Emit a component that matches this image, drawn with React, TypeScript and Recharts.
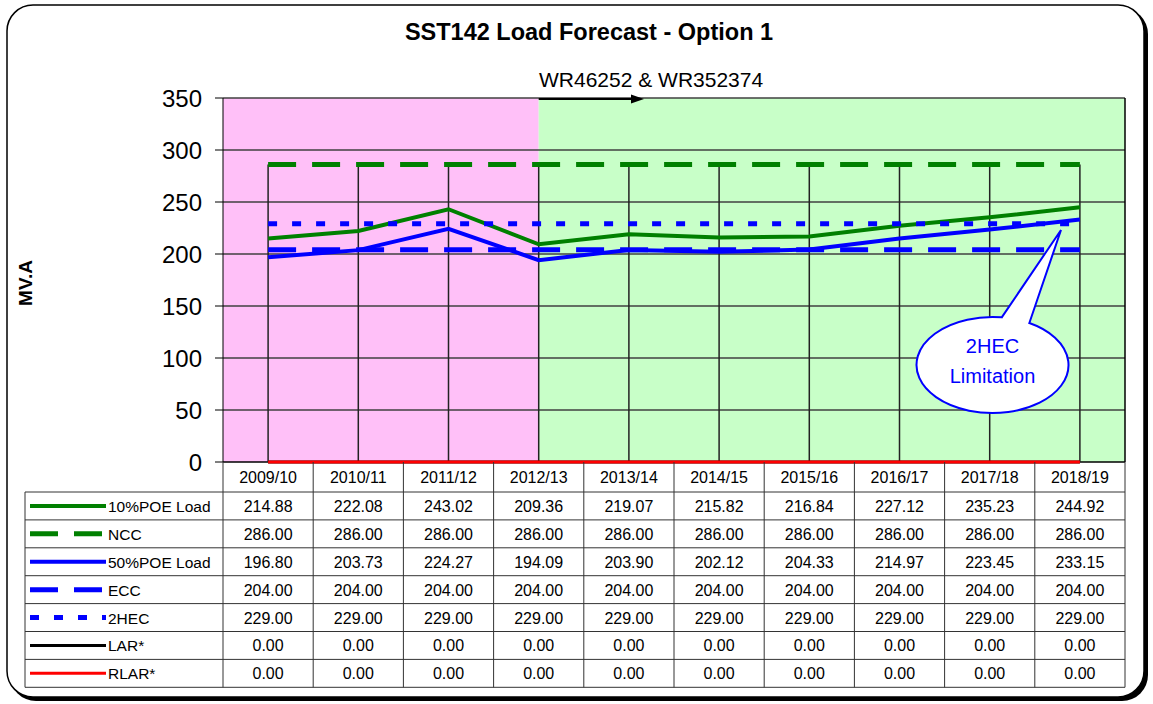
import React from 'react';
import {
  ComposedChart,
  Line,
  XAxis,
  YAxis,
  ReferenceArea,
  ReferenceLine,
} from 'recharts';

const categories = [
  '2009/10', '2010/11', '2011/12', '2012/13', '2013/14',
  '2014/15', '2015/16', '2016/17', '2017/18', '2018/19',
];
const poe10 = [214.88, 222.08, 243.02, 209.36, 219.07, 215.82, 216.84, 227.12, 235.23, 244.92];
const ncc = [286, 286, 286, 286, 286, 286, 286, 286, 286, 286];
const poe50 = [196.8, 203.73, 224.27, 194.09, 203.9, 202.12, 204.33, 214.97, 223.45, 233.15];
const ecc = [204, 204, 204, 204, 204, 204, 204, 204, 204, 204];
const hec2 = [229, 229, 229, 229, 229, 229, 229, 229, 229, 229];
const lar = [0, 0, 0, 0, 0, 0, 0, 0, 0, 0];
const rlar = [0, 0, 0, 0, 0, 0, 0, 0, 0, 0];
const yTicks = [0, 50, 100, 150, 200, 250, 300, 350];

// first year of the WR46252 & WR352374 stage (index into categories)
const stageStart = 3;

const FONT = '"Liberation Sans", Arial, sans-serif';

const SERIES = [
  { key: 'poe10', name: '10%POE Load', values: poe10, color: '#008000', width: 4, dash: undefined },
  { key: 'ncc', name: 'NCC', values: ncc, color: '#008000', width: 5, dash: '28 16' },
  { key: 'poe50', name: '50%POE Load', values: poe50, color: '#0000ff', width: 4, dash: undefined },
  { key: 'ecc', name: 'ECC', values: ecc, color: '#0000ff', width: 5, dash: '28 16' },
  { key: 'hec2', name: '2HEC', values: hec2, color: '#0000ff', width: 5, dash: '9 15' },
  { key: 'lar', name: 'LAR*', values: lar, color: '#000000', width: 3, dash: undefined },
  { key: 'rlar', name: 'RLAR*', values: rlar, color: '#ff0000', width: 3, dash: undefined },
];

const chartData = categories.map((cat, i) => {
  const row: Record<string, number | string> = { idx: i, cat };
  SERIES.forEach((s) => {
    row[s.key] = s.values[i];
  });
  return row;
});

const W = 1153;
const H = 704;
const PLOT_LEFT = 223;
const PLOT_RIGHT = 1125;
const PLOT_TOP = 98;
const PLOT_BOTTOM = 462;
const TABLE_LEFT = 25;
const HEADER_BOTTOM = 492;
const ROW_H = 27.9;
const colW = (PLOT_RIGHT - PLOT_LEFT) / categories.length;

function DataTable() {
  const tableBottom = HEADER_BOTTOM + ROW_H * SERIES.length;
  return (
    <g fontFamily={FONT} fill="#000">
      {categories.map((c, i) => (
        <text
          key={c}
          x={PLOT_LEFT + colW * (i + 0.5)}
          y={483}
          fontSize={16}
          textAnchor="middle"
        >
          {c}
        </text>
      ))}
      {SERIES.map((s, r) => {
        const cy = HEADER_BOTTOM + ROW_H * (r + 0.5);
        return (
          <g key={s.key}>
            <line
              x1={30}
              x2={106}
              y1={cy}
              y2={cy}
              stroke={s.color}
              strokeWidth={s.width}
              strokeDasharray={s.dash}
            />
            <text x={108} y={cy + 6} fontSize={15.5}>
              {s.name}
            </text>
            {s.values.map((v, i) => (
              <text
                key={i}
                x={PLOT_LEFT + colW * (i + 0.5)}
                y={cy + 6}
                fontSize={16}
                textAnchor="middle"
              >
                {v.toFixed(2)}
              </text>
            ))}
            <line
              x1={TABLE_LEFT}
              x2={PLOT_RIGHT}
              y1={HEADER_BOTTOM + ROW_H * (r + 1)}
              y2={HEADER_BOTTOM + ROW_H * (r + 1)}
              stroke="#333"
            />
          </g>
        );
      })}
      <line x1={TABLE_LEFT} x2={PLOT_RIGHT} y1={HEADER_BOTTOM} y2={HEADER_BOTTOM} stroke="#333" />
      <line x1={TABLE_LEFT} x2={TABLE_LEFT} y1={HEADER_BOTTOM} y2={tableBottom} stroke="#333" />
      {categories.concat(['']).map((_, i) => (
        <line
          key={i}
          x1={PLOT_LEFT + colW * i}
          x2={PLOT_LEFT + colW * i}
          y1={PLOT_BOTTOM}
          y2={tableBottom}
          stroke="#333"
        />
      ))}
    </g>
  );
}

function Callout() {
  const cx = 992.5;
  const cy = 365;
  const rx = 76;
  const ry = 48;
  const pt = (deg: number) => {
    const a = (deg * Math.PI) / 180;
    return [cx + rx * Math.cos(a), cy + ry * Math.sin(a)];
  };
  const b1 = pt(-83);
  const b2 = pt(-61);
  const tip = [1061, 230];
  const d = `M ${b1[0]} ${b1[1]} L ${tip[0]} ${tip[1]} L ${b2[0]} ${b2[1]} A ${rx} ${ry} 0 1 1 ${b1[0]} ${b1[1]} Z`;
  return (
    <g fontFamily={FONT}>
      <path d={d} fill="#fff" stroke="#0000ff" strokeWidth={2} />
      <text x={cx} y={353} fontSize={20} fill="#0000ff" textAnchor="middle">
        2HEC
      </text>
      <text x={cx} y={383} fontSize={20} fill="#0000ff" textAnchor="middle">
        Limitation
      </text>
    </g>
  );
}

export default function App() {
  const arrowX = PLOT_LEFT + colW * (stageStart + 0.5);
  const dropTops = categories.map((_, i) => Math.max(...SERIES.map((s) => s.values[i])));

  return (
    <div style={{ position: 'fixed', left: 0, top: 0, width: W, height: H, background: '#fff' }}>
      <svg width={W} height={H} style={{ position: 'absolute', left: 0, top: 0 }}>
        <rect x={10} y={8} width={1138} height={693} rx={26} fill="#000" />
        <rect x={7} y={5} width={1137} height={692} rx={26} fill="#fff" stroke="#000" strokeWidth={1.5} />
      </svg>

      <div style={{ position: 'absolute', left: 0, top: 0 }}>
        <ComposedChart
          width={W}
          height={H}
          data={chartData}
          margin={{ top: PLOT_TOP, right: W - PLOT_RIGHT, bottom: H - PLOT_BOTTOM, left: 13 }}
        >
          <XAxis type="number" dataKey="idx" domain={[-0.5, categories.length - 0.5]} hide />
          <YAxis
            type="number"
            domain={[0, 350]}
            ticks={yTicks}
            interval={0}
            width={PLOT_LEFT - 13}
            tickSize={8}
            tickMargin={13}
            axisLine={{ stroke: '#000' }}
            tickLine={{ stroke: '#000' }}
            tick={{ fontSize: 24, fill: '#000', fontFamily: FONT }}
          />
          <ReferenceArea
            x1={-0.5}
            x2={stageStart}
            y1={0}
            y2={350}
            fill="#ffc0f8"
            fillOpacity={1}
            stroke="none"
          />
          <ReferenceArea
            x1={stageStart}
            x2={categories.length - 0.5}
            y1={0}
            y2={350}
            fill="#c8ffc8"
            fillOpacity={1}
            stroke="none"
          />
          {yTicks
            .filter((t) => t > 0)
            .map((t) => (
              <ReferenceLine key={`g${t}`} y={t} stroke="#404040" strokeWidth={1.5} />
            ))}
          <ReferenceLine y={0} stroke="#000" strokeWidth={1.5} />
          <ReferenceLine x={categories.length - 0.5} stroke="#000" strokeWidth={1.5} />
          {dropTops.map((top, i) => (
            <ReferenceLine
              key={`d${i}`}
              segment={[
                { x: i, y: 0 },
                { x: i, y: top },
              ]}
              stroke="#222"
              strokeWidth={1.5}
            />
          ))}
          {SERIES.map((s) => (
            <Line
              key={s.key}
              type="linear"
              dataKey={s.key}
              name={s.name}
              stroke={s.color}
              strokeWidth={s.width}
              strokeDasharray={s.dash}
              strokeLinecap="butt"
              dot={false}
              activeDot={false}
              isAnimationActive={false}
            />
          ))}
        </ComposedChart>
      </div>

      <svg width={W} height={H} style={{ position: 'absolute', left: 0, top: 0, pointerEvents: 'none' }}>
        <text x={589} y={40} fontFamily={FONT} fontSize={23.5} fontWeight="bold" textAnchor="middle">
          SST142 Load Forecast - Option 1
        </text>
        <text x={539} y={87} fontFamily={FONT} fontSize={21}>
          WR46252 &amp; WR352374
        </text>
        <line x1={arrowX} x2={633} y1={99} y2={99} stroke="#000" strokeWidth={2} />
        <polygon points="644,99 631,94.5 631,103.5" fill="#000" />
        <text
          x={0}
          y={0}
          transform="translate(32 283) rotate(-90)"
          fontFamily={FONT}
          fontSize={19}
          fontWeight="bold"
          textAnchor="middle"
        >
          MV.A
        </text>
        <DataTable />
        <Callout />
      </svg>
    </div>
  );
}
